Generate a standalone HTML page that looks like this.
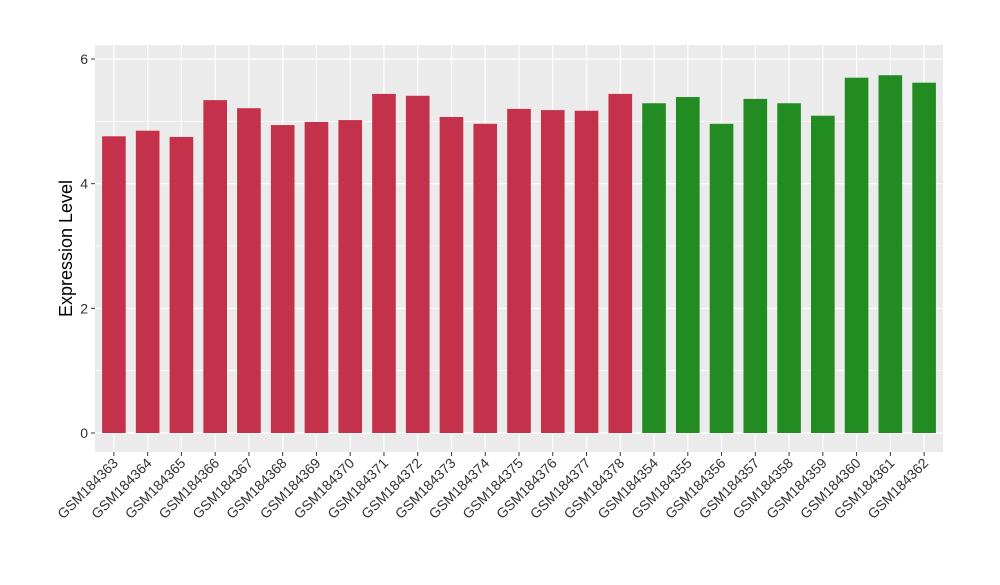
<!DOCTYPE html>
<html><head><meta charset="utf-8"><style>
body{margin:0;background:#fff;font-family:"Liberation Sans",sans-serif}
</style></head><body>
<svg id="chart" width="1000" height="580" xmlns="http://www.w3.org/2000/svg"></svg>
<script>
const categories=["GSM184363","GSM184364","GSM184365","GSM184366","GSM184367","GSM184368","GSM184369","GSM184370","GSM184371","GSM184372","GSM184373","GSM184374","GSM184375","GSM184376","GSM184377","GSM184378","GSM184354","GSM184355","GSM184356","GSM184357","GSM184358","GSM184359","GSM184360","GSM184361","GSM184362"];
const values=[4.76,4.85,4.75,5.34,5.21,4.94,4.99,5.02,5.44,5.41,5.07,4.96,5.20,5.18,5.17,5.44,5.29,5.39,4.96,5.36,5.29,5.09,5.70,5.74,5.62];
const groups=["a","a","a","a","a","a","a","a","a","a","a","a","a","a","a","a","b","b","b","b","b","b","b","b","b"];
const yTicks=[0,2,4,6];
const yMinor=[1,3,5];
const NS="http://www.w3.org/2000/svg";
const svg=document.getElementById('chart');
const px0=95,px1=943,py0=45,py1=452;
const y=v=>433-v*(433-59)/6;
const pad=0.56;
const step=(px1-px0)/(categories.length-1+2*pad);
const x=i=>px0+step*(pad+i);
function mk(t,a,p){const e=document.createElementNS(NS,t);for(const k in a)e.setAttribute(k,a[k]);(p||svg).appendChild(e);return e;}
const panel=mk('rect',{x:px0,y:py0,width:px1-px0,height:py1-py0,fill:'#EBEBEB'});


yMinor.forEach(v=>{const l=mk('line',{x1:px0,x2:px1,y1:y(v),y2:y(v),stroke:'#fff','stroke-width':0.6});

});
yTicks.forEach(v=>{const l=mk('line',{x1:px0,x2:px1,y1:y(v),y2:y(v),stroke:'#fff','stroke-width':1.2});


const t=mk('line',{x1:px0-4,x2:px0,y1:y(v),y2:y(v),stroke:'#333','stroke-width':1});


const tx=mk('text',{x:px0-7,y:y(v)+5,'text-anchor':'end','font-size':14,fill:'#333'});tx.textContent=v;

});
categories.forEach((c,i)=>{const cx=x(i);
const g=mk('line',{x1:cx,x2:cx,y1:py0,y2:py1,stroke:'#fff','stroke-width':1.2});


const bw=step*0.7;
const b=mk('rect',{x:cx-bw/2,y:y(values[i]),width:bw,height:y(0)-y(values[i]),fill:groups[i]==="a"?'#C3314A':'#228B22'});


const t=mk('line',{x1:cx,x2:cx,y1:py1,y2:py1+4,stroke:'#333','stroke-width':1});


const lb=mk('text',{x:cx+5,y:py1+12,'text-anchor':'end','font-size':14,fill:'#333',transform:`rotate(-45 ${cx+5} ${py1+12})`});lb.textContent=c;

});
const yt=mk('text',{x:72,y:(py0+py1)/2,'text-anchor':'middle','font-size':18,fill:'#000',transform:`rotate(-90 72 ${(py0+py1)/2})`});yt.textContent='Expression Level';


</script>
</body></html>
